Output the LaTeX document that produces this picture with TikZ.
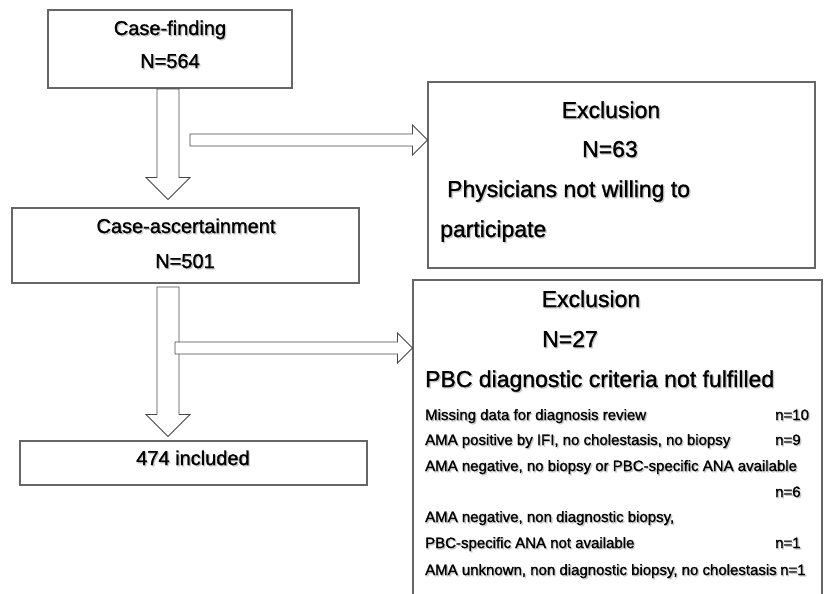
\documentclass[tikz,border=0pt]{standalone}
\usepackage{fontspec}
\setmainfont{Liberation Sans}
\newfontfamily\heavyfont{Liberation Sans}[FakeBold=1.2]
\usetikzlibrary{calc}
\tikzset{
  flowbox/.style={
    draw=black!60,
    line width=1.1pt,
    fill=white,
    inner sep=0pt
  },
  blockarrow/.style={
    draw=black!72,
    line width=0.9pt,
    fill=white,
    line join=miter
  },
  midtext/.style={
    font=\heavyfont\fontsize{20}{24}\selectfont,
    anchor=base,
    inner sep=0pt
  },
  bigtext/.style={
    font=\heavyfont\fontsize{23}{27}\selectfont,
    anchor=base,
    inner sep=0pt
  },
  smalltext/.style={
    font=\heavyfont\fontsize{15}{18}\selectfont,
    anchor=base west,
    inner sep=0pt
  }
}
% text with a soft grey drop shadow
\newcommand{\softshadow}[1]{\rlap{\kern1.3pt\raisebox{-1.3pt}{\color{black!22}#1}}#1}
% wide hollow arrows, tail -> tip
\newcommand{\downblock}[2]{%
  \draw[blockarrow] let \p1=(#1), \p2=(#2) in
    (\x1-11,\y1) -- (\x1+11,\y1) -- (\x1+11,\y2+22) -- (\x1+22,\y2+22)
    -- (\x1,\y2) -- (\x1-22,\y2+22) -- (\x1-11,\y2+22) -- cycle;}
\newcommand{\rightblock}[2]{%
  \draw[blockarrow] let \p1=(#1), \p2=(#2) in
    (\x1,\y1+6) -- (\x2-15,\y1+6) -- (\x2-15,\y1+15) -- (\x2,\y1)
    -- (\x2-15,\y1-15) -- (\x2-15,\y1-6) -- (\x1,\y1-6) -- cycle;}

\begin{document}
\begin{tikzpicture}[x=1pt,y=-1pt]
            \clip (0,0) rectangle (830,594);
            % boxes
            \node[flowbox, minimum width=244pt, minimum height=78pt] (find) at (170,49) {};
            \node[flowbox, minimum width=347pt, minimum height=75pt] (ascert) at (185.5,245.5) {};
            \node[flowbox, minimum width=347pt, minimum height=44pt] (incl) at (193.5,463) {};
            \node[flowbox, minimum width=387pt, minimum height=186pt] (excla) at (621.5,175) {};
            \node[flowbox, minimum width=409pt, minimum height=340pt] (exclb) at (617.5,450) {};
            % arrows
            \coordinate (d1tail) at (168,89);
            \coordinate (d2tail) at (168,287);
            \coordinate (r1tail) at (190,140);
            \coordinate (r2tail) at (175,348);
            \downblock{d1tail}{$(d1tail |- ascert.north)+(0,-8)$}
            \downblock{d2tail}{$(d2tail |- incl.north)+(0,-4)$}
            \rightblock{r1tail}{excla.west |- r1tail}
            \rightblock{r2tail}{exclb.west |- r2tail}
            % texts
            \node[midtext] (findtitle) at (170,35) {\softshadow{Case-finding}};
            \node[midtext] (findn) at (170,68) {\softshadow{N=564}};
            \node[midtext] (ascerttitle) at (186,233) {\softshadow{Case-ascertainment}};
            \node[midtext] (ascertn) at (185,268) {\softshadow{N=501}};
            \node[midtext] (incltext) at (193,465) {\softshadow{474 included}};
            \node[bigtext] (exclatitle) at (611,118) {\softshadow{Exclusion}};
            \node[bigtext] (exclan) at (610,157) {\softshadow{N=63}};
            \node[bigtext, anchor=base west] (exclareason) at (447,197) {\softshadow{Physicians not willing to}};
            \node[bigtext, anchor=base west] (exclareasonb) at (440,237) {\softshadow{participate}};
            \node[bigtext] (exclbtitle) at (591,307) {\softshadow{Exclusion}};
            \node[bigtext, anchor=base west] (exclbn) at (542,347) {\softshadow{N=27}};
            \node[bigtext, anchor=base west] (exclbreason) at (425,387) {\softshadow{PBC diagnostic criteria not fulfilled}};
            \foreach \txt/\yy [count=\i] in {
                    {Missing data for diagnosis review}/420,
                    {AMA positive by IFI, no cholestasis, no biopsy}/445,
                    {AMA negative, no biopsy or PBC-specific ANA available}/471,
                    {AMA negative, non diagnostic biopsy,}/522,
                    {PBC-specific ANA not available}/548,
                    {AMA unknown, non diagnostic biopsy, no cholestasis}/575}{
                    \node[smalltext] (cause\i) at (425,\yy) {\softshadow{\txt}};
                }
            \foreach \nn/\yy [count=\i] in {10/420,9/445,6/497,1/548}{
                    \node[smalltext] (count\i) at (775,\yy) {\softshadow{n=\nn}};
                }
            \node[smalltext] (count5) at (780,575) {\softshadow{n=1}};
        \end{tikzpicture}
\end{document}
